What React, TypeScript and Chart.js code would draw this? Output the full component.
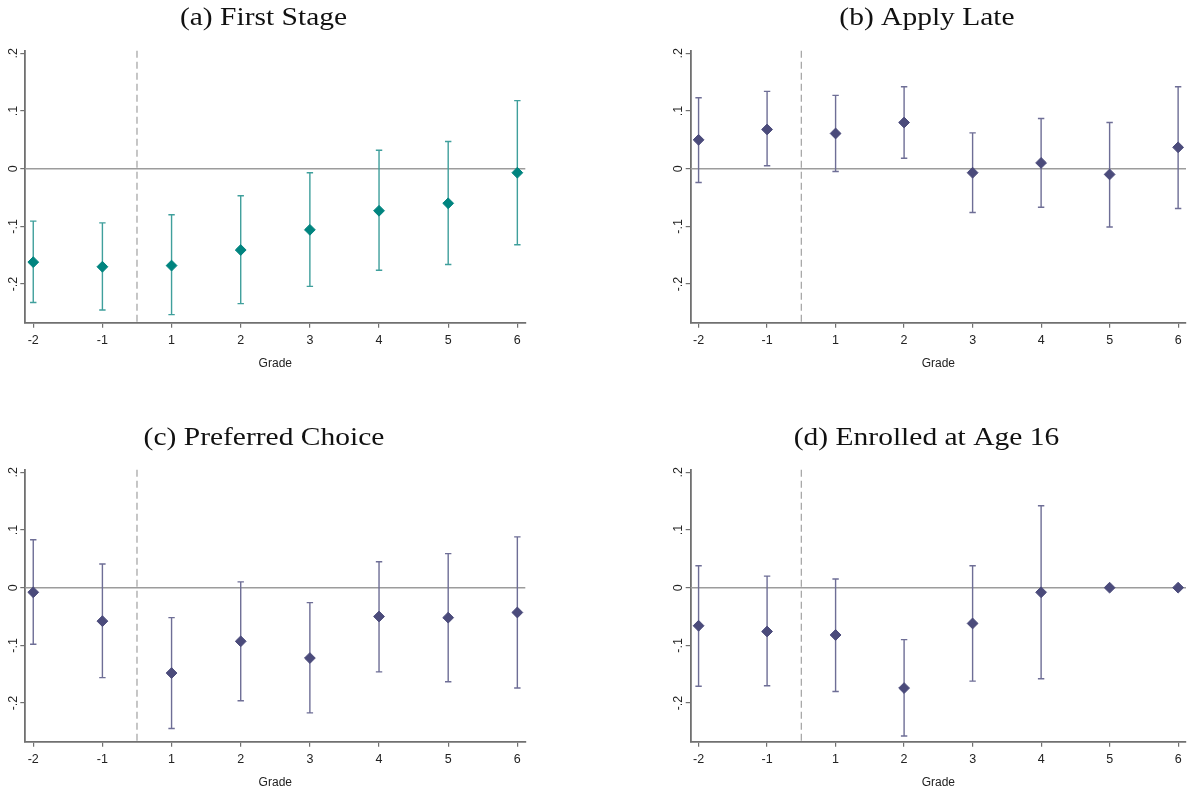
import React, { useEffect, useRef } from "react";
import { Chart, registerables } from "chart.js";

Chart.register(...registerables);

// ---------- data ----------
const grades = ["-2", "-1", "1", "2", "3", "4", "5", "6"];
const yTickValues = [-0.2, -0.1, 0, 0.1, 0.2];
const yTickLabels = ["-.2", "-.1", "0", ".1", ".2"];
const cutoffPosition = 1.5; // between grade -1 and grade 1

const firstStageCoef = [-0.162, -0.17, -0.168, -0.141, -0.106, -0.073, -0.06, -0.007];
const firstStageLo = [-0.232, -0.245, -0.253, -0.234, -0.204, -0.176, -0.166, -0.132];
const firstStageHi = [-0.091, -0.094, -0.08, -0.047, -0.007, 0.032, 0.047, 0.118];

const applyLateCoef = [0.05, 0.068, 0.061, 0.08, -0.007, 0.01, -0.01, 0.037];
const applyLateLo = [-0.024, 0.005, -0.005, 0.018, -0.076, -0.067, -0.101, -0.069];
const applyLateHi = [0.123, 0.134, 0.127, 0.142, 0.062, 0.087, 0.08, 0.142];

const preferredCoef = [-0.008, -0.058, -0.148, -0.093, -0.122, -0.05, -0.052, -0.043];
const preferredLo = [-0.098, -0.156, -0.244, -0.196, -0.217, -0.146, -0.163, -0.174];
const preferredHi = [0.083, 0.041, -0.052, 0.01, -0.026, 0.045, 0.059, 0.088];

const enrolledCoef = [-0.066, -0.076, -0.082, -0.174, -0.062, -0.008, 0, 0];
const enrolledLo: (number | null)[] = [-0.171, -0.17, -0.18, -0.257, -0.162, -0.158, null, null];
const enrolledHi: (number | null)[] = [0.038, 0.02, 0.015, -0.09, 0.038, 0.142, null, null];

const Y_MIN = -0.267;
const Y_MAX = 0.2045;
const X_MIN = -0.115;
const X_MAX = 7.115;

type PanelSpec = {
  title: string;
  coef: number[];
  lo: (number | null)[];
  hi: (number | null)[];
  marker: string;
  bar: string;
  left: number;
  top: number;
  width: number;
  height: number;
  yAxisWidth: number;
  padRight: number;
  titleX: number;
  titleY: number;
};

const TEAL = "#00847f";
const TEAL_BAR = "#3f9f9c";
const NAVY = "#4b4b7b";
const NAVY_BAR = "#6e6e96";

const panels: PanelSpec[] = [
  {
    title: "(a) First Stage",
    coef: firstStageCoef, lo: firstStageLo, hi: firstStageHi,
    marker: TEAL, bar: TEAL_BAR,
    left: 0, top: 0, width: 596, height: 373,
    yAxisWidth: 25.3, padRight: 70.7, titleX: 263.5, titleY: 18.5,
  },
  {
    title: "(b) Apply Late",
    coef: applyLateCoef, lo: applyLateLo, hi: applyLateHi,
    marker: NAVY, bar: NAVY_BAR,
    left: 596, top: 0, width: 600, height: 373,
    yAxisWidth: 94.7, padRight: 10, titleX: 331, titleY: 18.5,
  },
  {
    title: "(c) Preferred Choice",
    coef: preferredCoef, lo: preferredLo, hi: preferredHi,
    marker: NAVY, bar: NAVY_BAR,
    left: 0, top: 419, width: 596, height: 373,
    yAxisWidth: 25.3, padRight: 70.7, titleX: 264, titleY: 19,
  },
  {
    title: "(d) Enrolled at Age 16",
    coef: enrolledCoef, lo: enrolledLo, hi: enrolledHi,
    marker: NAVY, bar: NAVY_BAR,
    left: 596, top: 419, width: 600, height: 373,
    yAxisWidth: 94.7, padRight: 10, titleX: 330.5, titleY: 19,
  },
];

const SANS = "'Liberation Sans', Arial, sans-serif";
const SERIF = "'Liberation Serif', 'Times New Roman', serif";
const AXIS_COLOR = "#707070";

const panelPlugin = {
  id: "panelDecor",
  beforeDatasetsDraw(chart: any) {
    const spec: PanelSpec = chart.options.plugins.panelDecor.spec;
    const { ctx, chartArea } = chart;
    const xs = chart.scales.x;
    const ys = chart.scales.y;
    ctx.save();
    // zero line
    const y0 = ys.getPixelForValue(0);
    ctx.strokeStyle = "#9c9c9c";
    ctx.lineWidth = 1.5;
    ctx.beginPath();
    ctx.moveTo(chartArea.left, y0);
    ctx.lineTo(chartArea.right, y0);
    ctx.stroke();
    // cutoff dashed line
    const xc = xs.getPixelForValue(cutoffPosition);
    ctx.strokeStyle = "#a8a8a8";
    ctx.lineWidth = 1.3;
    ctx.setLineDash([7, 4]);
    ctx.beginPath();
    ctx.moveTo(xc, chartArea.top);
    ctx.lineTo(xc, chartArea.bottom);
    ctx.stroke();
    ctx.setLineDash([]);
    // error bars
    ctx.strokeStyle = spec.bar;
    ctx.lineWidth = 1.4;
    for (let i = 0; i < spec.coef.length; i++) {
      const lo = spec.lo[i];
      const hi = spec.hi[i];
      if (lo === null || hi === null) continue;
      const px = xs.getPixelForValue(i);
      const pLo = ys.getPixelForValue(lo);
      const pHi = ys.getPixelForValue(hi);
      ctx.beginPath();
      ctx.moveTo(px, pLo);
      ctx.lineTo(px, pHi);
      ctx.moveTo(px - 3.2, pLo);
      ctx.lineTo(px + 3.2, pLo);
      ctx.moveTo(px - 3.2, pHi);
      ctx.lineTo(px + 3.2, pHi);
      ctx.stroke();
    }
    ctx.restore();
  },
  afterDraw(chart: any) {
    const spec: PanelSpec = chart.options.plugins.panelDecor.spec;
    const { ctx, chartArea } = chart;
    const ys = chart.scales.y;
    ctx.save();
    // rotated y tick labels
    ctx.fillStyle = "#222";
    ctx.font = `12.5px ${SANS}`;
    ctx.textAlign = "center";
    ctx.textBaseline = "middle";
    yTickValues.forEach((v, k) => {
      const py = ys.getPixelForValue(v);
      ctx.save();
      ctx.translate(chartArea.left - 12, py);
      ctx.rotate(-Math.PI / 2);
      ctx.fillText(yTickLabels[k], 0, 0);
      ctx.restore();
    });
    // x axis title
    ctx.font = `12px ${SANS}`;
    ctx.fillText("Grade", (chartArea.left + chartArea.right) / 2, chartArea.bottom + 41);
    // panel title
    ctx.fillStyle = "#111";
    ctx.font = `25px ${SERIF}`;
    ctx.translate(spec.titleX, spec.titleY);
    ctx.scale(1.18, 1);
    ctx.fillText(spec.title, 0, 0);
    ctx.restore();
  },
};

function Panel({ spec }: { spec: PanelSpec }) {
  const ref = useRef<HTMLCanvasElement>(null);
  useEffect(() => {
    if (!ref.current) return;
    const chart = new Chart(ref.current, {
      type: "scatter",
      data: {
        datasets: [
          {
            data: spec.coef.map((c, i) => ({ x: i, y: c })),
            pointStyle: "rectRot",
            pointRadius: 5.4,
            pointHoverRadius: 5.4,
            backgroundColor: spec.marker,
            borderColor: spec.marker,
            borderWidth: 1,
          },
        ],
      },
      options: {
        animation: false,
        responsive: false,
        maintainAspectRatio: false,
        devicePixelRatio: 1,
        layout: { padding: { top: 50.7, right: spec.padRight, bottom: 0, left: 0 } },
        plugins: {
          legend: { display: false },
          tooltip: { enabled: false },
          title: { display: false },
          panelDecor: { spec },
        } as any,
        scales: {
          x: {
            type: "linear",
            min: X_MIN,
            max: X_MAX,
            afterBuildTicks: (scale: any) => {
              scale.ticks = grades.map((_, i) => ({ value: i }));
            },
            afterFit: (scale: any) => {
              scale.height = 373 - 322.7;
            },
            ticks: {
              callback: (v: any) => grades[Math.round(Number(v))] ?? "",
              font: { family: SANS, size: 12.5 },
              color: "#222",
              padding: 5,
              maxRotation: 0,
              minRotation: 0,
            },
            grid: {
              drawOnChartArea: false,
              drawTicks: true,
              tickLength: 5,
              color: AXIS_COLOR,
              lineWidth: 1.2,
            },
            border: { display: true, color: AXIS_COLOR, width: 1.8 },
          },
          y: {
            type: "linear",
            min: Y_MIN,
            max: Y_MAX,
            afterBuildTicks: (scale: any) => {
              scale.ticks = yTickValues.map((v) => ({ value: v }));
            },
            afterFit: (scale: any) => {
              scale.width = spec.yAxisWidth;
            },
            ticks: { display: false },
            grid: {
              drawOnChartArea: false,
              drawTicks: true,
              tickLength: 5,
              color: AXIS_COLOR,
              lineWidth: 1.2,
            },
            border: { display: true, color: AXIS_COLOR, width: 1.8 },
          },
        },
      },
      plugins: [panelPlugin],
    } as any);
    return () => chart.destroy();
  }, [spec]);
  return (
    <div
      style={{
        position: "absolute",
        left: spec.left,
        top: spec.top,
        width: spec.width,
        height: spec.height,
      }}
    >
      <canvas ref={ref} width={spec.width} height={spec.height} style={{ width: spec.width, height: spec.height, display: "block" }} />
    </div>
  );
}

export default function App() {
  return (
    <div
      style={{
        position: "fixed",
        left: 0,
        top: 0,
        width: 1192,
        height: 792,
        overflow: "hidden",
        background: "#fff",
      }}
    >
      {panels.map((p) => (
        <Panel key={p.title} spec={p} />
      ))}
    </div>
  );
}
